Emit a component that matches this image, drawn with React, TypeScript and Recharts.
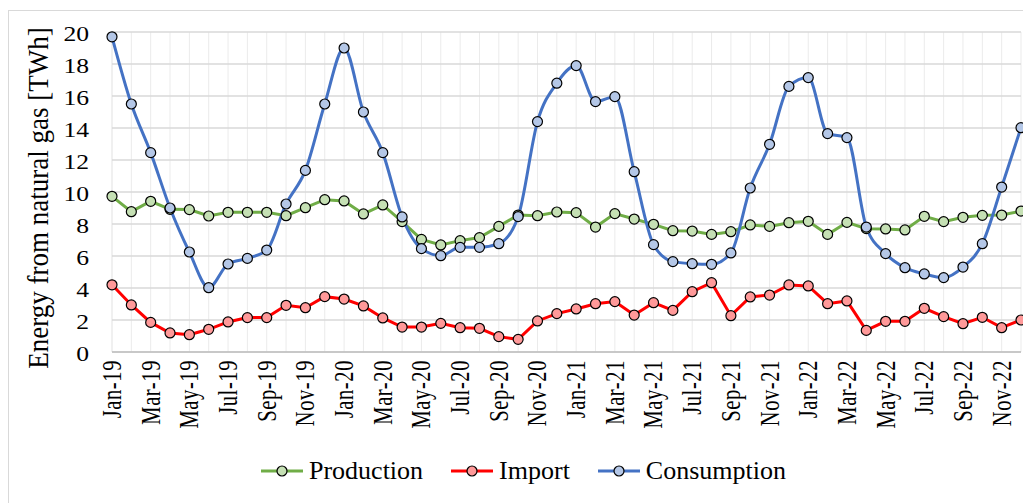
import React from 'react';
import { LineChart, Line, XAxis, YAxis, CartesianGrid, Legend } from 'recharts';

const months = [
  'Jan-19', 'Feb-19', 'Mar-19', 'Apr-19', 'May-19', 'Jun-19', 'Jul-19', 'Aug-19', 'Sep-19', 'Oct-19', 'Nov-19', 'Dec-19',
  'Jan-20', 'Feb-20', 'Mar-20', 'Apr-20', 'May-20', 'Jun-20', 'Jul-20', 'Aug-20', 'Sep-20', 'Oct-20', 'Nov-20', 'Dec-20',
  'Jan-21', 'Feb-21', 'Mar-21', 'Apr-21', 'May-21', 'Jun-21', 'Jul-21', 'Aug-21', 'Sep-21', 'Oct-21', 'Nov-21', 'Dec-21',
  'Jan-22', 'Feb-22', 'Mar-22', 'Apr-22', 'May-22', 'Jun-22', 'Jul-22', 'Aug-22', 'Sep-22', 'Oct-22', 'Nov-22', 'Dec-22',
];

const production = [
  9.73, 8.77, 9.42, 8.92, 8.9, 8.5, 8.73, 8.73, 8.73, 8.52, 9.02, 9.52,
  9.44, 8.63, 9.19, 8.15, 7.04, 6.69, 6.96, 7.15, 7.85, 8.56, 8.52, 8.75,
  8.71, 7.81, 8.65, 8.31, 7.98, 7.58, 7.56, 7.35, 7.52, 7.94, 7.85, 8.08,
  8.17, 7.35, 8.1, 7.71, 7.69, 7.63, 8.48, 8.15, 8.42, 8.54, 8.56, 8.81,
];

const imports = [
  4.2, 2.94, 1.85, 1.19, 1.08, 1.42, 1.88, 2.15, 2.15, 2.92, 2.77, 3.46,
  3.31, 2.88, 2.13, 1.56, 1.56, 1.79, 1.52, 1.48, 0.96, 0.79, 1.94, 2.4,
  2.69, 3.02, 3.15, 2.31, 3.08, 2.6, 3.77, 4.33, 2.27, 3.44, 3.56, 4.19,
  4.13, 3.02, 3.19, 1.35, 1.92, 1.92, 2.73, 2.21, 1.77, 2.17, 1.52, 2.0,
];

const consumption = [
  19.7, 15.5, 12.46, 9.0, 6.25, 4.02, 5.5, 5.85, 6.37, 9.25, 11.35, 15.5,
  19.0, 15.0, 12.46, 8.44, 6.46, 6.02, 6.54, 6.54, 6.77, 8.46, 14.4, 16.8,
  17.9, 15.65, 15.96, 11.27, 6.71, 5.65, 5.52, 5.48, 6.19, 10.25, 12.98, 16.6,
  17.15, 13.65, 13.4, 7.81, 6.15, 5.27, 4.88, 4.65, 5.31, 6.77, 10.31, 14.02,
];

const yTicks = [0, 2, 4, 6, 8, 10, 12, 14, 16, 18, 20];

const seriesInfo = [
  { key: 'production', name: 'Production', stroke: '#70AD47', fill: '#C5E0B4' },
  { key: 'import', name: 'Import', stroke: '#FF0000', fill: '#FF9999' },
  { key: 'consumption', name: 'Consumption', stroke: '#4472C4', fill: '#B4C7E7' },
];

const data = months.map((m, i) => ({
  month: m,
  production: production[i],
  import: imports[i],
  consumption: consumption[i],
}));

const FONT = '"Liberation Serif", "Times New Roman", serif';

const XTick = (props: any) => {
  const { x, y, payload } = props;
  const idx = props.index ?? payload.index;
  if (idx % 2 === 1) return <g />;
  return (
    <text
      transform={`translate(${x},${y}) scale(1.3,1) rotate(-90)`}
      textAnchor="end"
      dominantBaseline="central"
      fontSize={20.5}
      fontFamily={FONT}
      letterSpacing={0.6}
      fill="#000"
    >
      {payload.value}
    </text>
  );
};

const YTick = (props: any) => {
  const { x, y, payload } = props;
  return (
    <text
      transform={`translate(${x - 15},${y + 2}) scale(1.25,1)`}
      textAnchor="end"
      dominantBaseline="central"
      fontSize={20.5}
      fontFamily={FONT}
      fill="#000"
    >
      {payload.value}
    </text>
  );
};

const YTitle = (props: any) => {
  const vb = props.viewBox || { x: 0, y: 0, width: 112, height: 320 };
  const cx = vb.x + 38;
  const cy = vb.y + vb.height / 2 + 6;
  return (
    <text
      transform={`translate(${cx},${cy}) scale(1.1,1) rotate(-90)`}
      textAnchor="middle"
      dominantBaseline="central"
      fontSize={27}
      fontFamily={FONT}
      fill="#000"
    >
      Energy from natural gas [TWh]
    </text>
  );
};

const LegendContent = () => (
  <div
    style={{
      height: 36,
      display: 'flex',
      justifyContent: 'center',
      alignItems: 'center',
      paddingLeft: 26,
      fontFamily: FONT,
      fontSize: 26,
      color: '#000',
    }}
  >
    {seriesInfo.map((s) => (
      <div key={s.key} style={{ display: 'flex', alignItems: 'center', margin: '0 14px' }}>
        <svg width={42} height={16} style={{ marginRight: 6 }}>
          <line x1={0} y1={8} x2={42} y2={8} stroke={s.stroke} strokeWidth={3} />
          <circle cx={21} cy={8} r={5} fill={s.fill} stroke="#000" strokeWidth={1.2} />
        </svg>
        <span>{s.name}</span>
      </div>
    ))}
  </div>
);

export default function App() {
  return (
    <div style={{ position: 'absolute', left: 0, top: 0, width: 1023, height: 503, background: '#fff', overflow: 'hidden' }}>
      <div
        style={{
          position: 'absolute',
          left: 8,
          top: 10,
          width: 1100,
          height: 600,
          border: '1px solid #D9D9D9',
          boxSizing: 'border-box',
        }}
      />
      <div style={{ position: 'absolute', left: 0, top: 0 }}>
        <LineChart width={1023} height={503} data={data} margin={{ top: 32, right: 2, bottom: 14, left: 0 }}>
          <CartesianGrid horizontal={false} vertical={true} stroke="#EBEBEB" strokeWidth={1} />
          <CartesianGrid horizontal={true} vertical={false} stroke="#D9D9D9" strokeWidth={1.4} />
          <XAxis
            dataKey="month"
            interval={0}
            height={101}
            tick={<XTick />}
            tickLine={false}
            axisLine={{ stroke: '#BFBFBF', strokeWidth: 1.5 }}
          />
          <YAxis
            width={112}
            domain={[0, 20]}
            ticks={yTicks}
            interval={0}
            tick={<YTick />}
            tickLine={false}
            axisLine={false}
            label={<YTitle />}
          />
          <Legend verticalAlign="bottom" content={() => <LegendContent />} />
          {seriesInfo.map((s) => (
            <Line
              key={s.key}
              dataKey={s.key}
              name={s.name}
              type={s.key === 'consumption' ? 'monotone' : 'linear'}
              stroke={s.stroke}
              strokeWidth={3}
              dot={{ r: 5, fill: s.fill, stroke: '#000', strokeWidth: 1.2 }}
              activeDot={false}
              isAnimationActive={false}
            />
          ))}
        </LineChart>
      </div>
    </div>
  );
}
